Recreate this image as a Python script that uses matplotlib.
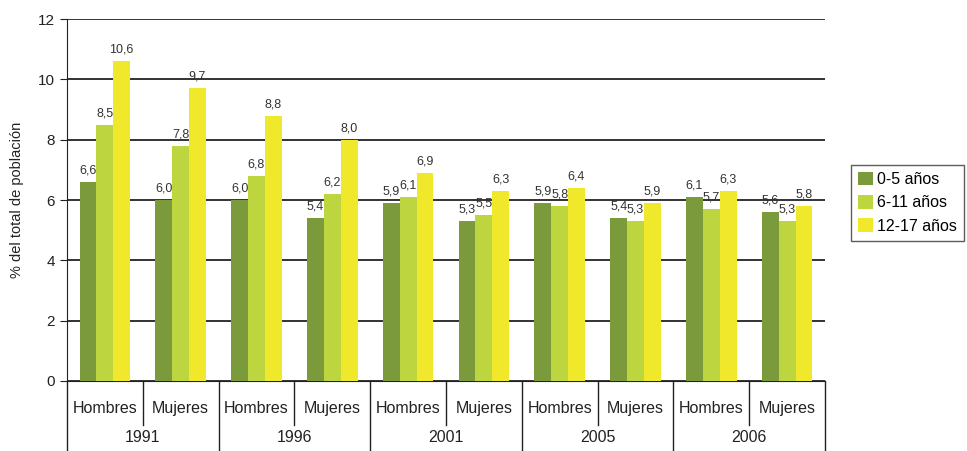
import numpy as np
import matplotlib.pyplot as plt
from matplotlib.transforms import blended_transform_factory

plt.rcParams['font.family'] = ['Liberation Sans', 'DejaVu Sans']

# datos
anios = ['1991', '1996', '2001', '2005', '2006']
sexos = ['Hombres', 'Mujeres']
series = ['0-5 años', '6-11 años', '12-17 años']
v_0_5 = [6.6, 6.0, 6.0, 5.4, 5.9, 5.3, 5.9, 5.4, 6.1, 5.6]
v_6_11 = [8.5, 7.8, 6.8, 6.2, 6.1, 5.5, 5.8, 5.3, 5.7, 5.3]
v_12_17 = [10.6, 9.7, 8.8, 8.0, 6.9, 6.3, 6.4, 5.9, 6.3, 5.8]
colores = ['#7b9a3c', '#bdd63f', '#efe82b']

fig = plt.figure(figsize=(9.67, 4.51), dpi=100)
ax = fig.add_axes([67/967, 70/451, 758/967, 362/451])

x = np.arange(len(v_0_5))
ancho = 0.222
for i, (vals, nombre, c) in enumerate(zip([v_0_5, v_6_11, v_12_17], series, colores)):
    pos = x + (i - 1) * ancho
    ax.bar(pos, vals, width=ancho, color=c, label=nombre, zorder=3)
    for p, v in zip(pos, vals):
        ax.text(p, v + 0.18, f'{v:.1f}'.replace('.', ','), ha='center', va='bottom',
                fontsize=9, color='#333333', zorder=4)

ax.set_xlim(-0.5, 9.5)
ax.set_ylim(0, 12)
ax.set_yticks(range(0, 13, 2))
ax.tick_params(axis='y', labelsize=11, colors='#222222', length=5, direction='out')
ax.tick_params(axis='x', bottom=False, labelbottom=False)
ax.yaxis.grid(True, color='#111111', linewidth=1.2, zorder=0)
ax.set_axisbelow(True)
for s in ['top', 'right']:
    ax.spines[s].set_visible(False)
ax.spines['left'].set_color('#222222')
ax.spines['bottom'].set_color('#222222')
ax.set_ylabel('% del total de población', fontsize=10.5, color='#222222', labelpad=10)

# etiquetas jerárquicas bajo el eje
tr = blended_transform_factory(ax.transData, ax.transAxes)
for i in range(len(x)):
    ax.text(x[i], -0.075, sexos[i % 2], transform=tr, ha='center', va='center',
            fontsize=11.5, color='#222222')
for j, a in enumerate(anios):
    ax.text(2 * j + 0.5, -0.157, a, transform=tr, ha='center', va='center',
            fontsize=11.5, color='#222222')
for b in np.arange(-0.5, 10, 2):
    ax.plot([b, b], [0, -0.2], transform=tr, color='#222222', lw=1, clip_on=False)
for b in np.arange(0.5, 10, 2):
    ax.plot([b, b], [0, -0.122], transform=tr, color='#222222', lw=1, clip_on=False)

leg = fig.legend(loc='upper left', bbox_to_anchor=(843/967, 1 - 157/451), fontsize=11.5,
                 frameon=True, fancybox=False, edgecolor='#333333', handlelength=0.9,
                 handleheight=0.9, handletextpad=0.3, labelspacing=0.5, borderpad=0.45)
leg.get_frame().set_linewidth(1)

fig.savefig('out.png', dpi=100)
